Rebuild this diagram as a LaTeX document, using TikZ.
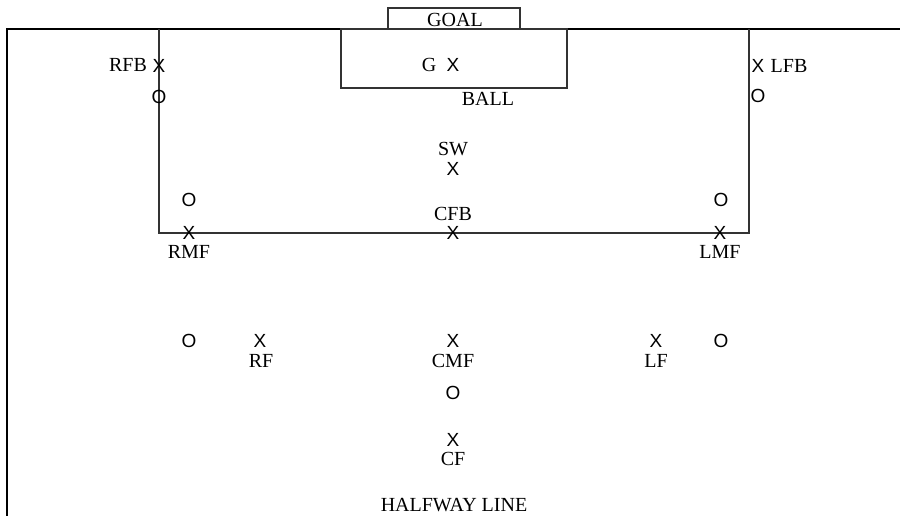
\documentclass[tikz,border=0pt]{standalone}
\usepackage{fontspec}
\setmainfont{Liberation Serif}
\newfontfamily\markfont{Liberation Sans}
\begin{document}
\begin{tikzpicture}[x=1pt,y=-1pt,
  lbl/.style={inner sep=0pt,font=\fontsize{20}{24}\selectfont},
  mk/.style={inner sep=0pt,font=\markfont\fontsize{19}{22}\selectfont},
  fieldline/.style={draw=black,line width=1.5pt},
  boxline/.style={draw=black!80,line width=1.1pt}]
\useasboundingbox (0,0) rectangle (900,516);
% touchline and goal line
\draw[fieldline] (7,516) -- (7,29) -- (900,29);
% penalty area, goal area, goal
\draw[boxline] (159,29) -- (159,233) -- (749,233) -- (749,29);
\draw[boxline] (341,29) rectangle (567,88);
\draw[boxline] (388,8) rectangle (520,29);
% labels
\node[lbl] (goal) at (455,20) {GOAL};
\node[lbl] (gl) at (429,65) {G};
\node[lbl] (ball) at (488,99) {BALL};
\node[lbl] (rfbl) at (128,65) {RFB};
\node[lbl] (lfbl) at (789,66) {LFB};
\node[lbl] (swl) at (453,149) {SW};
\node[lbl] (cfbl) at (453,214) {CFB};
\node[lbl] (rmfl) at (189,252) {RMF};
\node[lbl] (lmfl) at (720,252) {LMF};
\node[lbl] (rfl) at (261,361) {RF};
\node[lbl] (cmfl) at (453,361) {CMF};
\node[lbl] (lfl) at (656,361) {LF};
\node[lbl] (cfl) at (453,459) {CF};
\node[lbl] (half) at (454,505) {HALFWAY LINE};
% players (X) and opponents (O)
\node[mk] (gx) at (453,65) {X};
\node[mk] (rfbx) at (159,66) {X};
\node[mk] (rfbo) at (159,97) {O};
\node[mk] (lfbx) at (758,66) {X};
\node[mk] (lfbo) at (758,96) {O};
\node[mk] (swx) at (453,169) {X};
\node[mk] (cfbx) at (453,233) {X};
\node[mk] (rmfo) at (189,200) {O};
\node[mk] (rmfx) at (189,233) {X};
\node[mk] (lmfo) at (721,200) {O};
\node[mk] (lmfx) at (720,233) {X};
\node[mk] (rwo) at (189,341) {O};
\node[mk] (rfx) at (260,341) {X};
\node[mk] (cmfx) at (453,341) {X};
\node[mk] (cmfo) at (453,393) {O};
\node[mk] (cfx) at (453,440) {X};
\node[mk] (lfx) at (656,341) {X};
\node[mk] (lwo) at (721,341) {O};
\end{tikzpicture}
\end{document}
